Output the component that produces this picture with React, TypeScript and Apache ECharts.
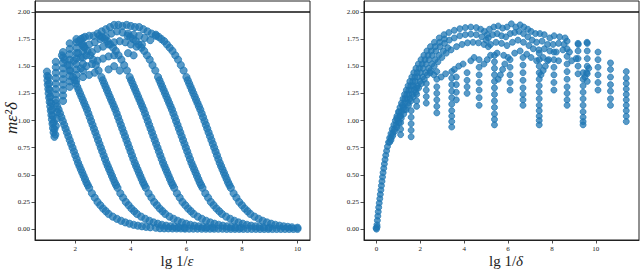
import React, { useEffect, useRef } from "react";
import * as echarts from "echarts";

type P = [number, number];

// ---------- Left panel: m*eps^2*delta vs lg 1/eps ----------
const epsCurve6: P[] = [[4.90,1.78],[5.00,1.77],[5.10,1.75],[5.20,1.73],[5.30,1.70],[5.40,1.67],[5.50,1.64],[5.60,1.60],[5.70,1.56],[5.80,1.51],[5.90,1.46],[6.00,1.40],[6.05,1.37],[6.10,1.34],[6.15,1.31],[6.20,1.28],[6.25,1.25],[6.30,1.22],[6.35,1.19],[6.40,1.16],[6.45,1.13],[6.50,1.10],[6.55,1.065],[6.60,1.03],[6.65,0.995],[6.70,0.96],[6.75,0.925],[6.80,0.89],[6.85,0.855],[6.90,0.82],[6.95,0.785],[7.00,0.75],[7.05,0.715],[7.10,0.68],[7.15,0.645],[7.20,0.61],[7.25,0.58],[7.30,0.55],[7.35,0.52],[7.40,0.49],[7.45,0.46],[7.50,0.43],[7.55,0.405],[7.60,0.38],[7.70,0.33],[7.80,0.29],[7.90,0.25],[8.00,0.22],[8.10,0.19],[8.20,0.165],[8.30,0.14],[8.45,0.115],[8.60,0.095],[8.75,0.077],[8.90,0.062],[9.05,0.05],[9.20,0.04],[9.35,0.032],[9.50,0.026],[9.65,0.021],[9.80,0.017],[10.00,0.013]];
const epsCurve5: P[] = [[3.88,1.78],[3.98,1.77],[4.08,1.75],[4.18,1.73],[4.28,1.70],[4.38,1.67],[4.48,1.64],[4.58,1.60],[4.68,1.56],[4.78,1.51],[4.88,1.46],[4.98,1.40],[5.03,1.37],[5.08,1.34],[5.13,1.31],[5.18,1.28],[5.23,1.25],[5.28,1.22],[5.33,1.19],[5.38,1.16],[5.43,1.13],[5.48,1.10],[5.53,1.065],[5.58,1.03],[5.63,0.995],[5.68,0.96],[5.73,0.925],[5.78,0.89],[5.83,0.855],[5.88,0.82],[5.93,0.785],[5.98,0.75],[6.03,0.715],[6.08,0.68],[6.13,0.645],[6.18,0.61],[6.23,0.58],[6.28,0.55],[6.33,0.52],[6.38,0.49],[6.43,0.46],[6.48,0.43],[6.53,0.405],[6.58,0.38],[6.68,0.33],[6.78,0.29],[6.88,0.25],[6.98,0.22],[7.08,0.19],[7.18,0.165],[7.28,0.14],[7.43,0.115],[7.58,0.095],[7.73,0.077],[7.88,0.062],[8.03,0.05],[8.18,0.04],[8.33,0.032],[8.48,0.026],[8.63,0.021],[8.78,0.017],[8.98,0.013]];
const epsCurve4: P[] = [[2.86,1.78],[2.96,1.77],[3.06,1.75],[3.16,1.73],[3.26,1.70],[3.36,1.67],[3.46,1.64],[3.56,1.60],[3.66,1.56],[3.76,1.51],[3.86,1.46],[3.96,1.40],[4.01,1.37],[4.06,1.34],[4.11,1.31],[4.16,1.28],[4.21,1.25],[4.26,1.22],[4.31,1.19],[4.36,1.16],[4.41,1.13],[4.46,1.10],[4.51,1.065],[4.56,1.03],[4.61,0.995],[4.66,0.96],[4.71,0.925],[4.76,0.89],[4.81,0.855],[4.86,0.82],[4.91,0.785],[4.96,0.75],[5.01,0.715],[5.06,0.68],[5.11,0.645],[5.16,0.61],[5.21,0.58],[5.26,0.55],[5.31,0.52],[5.36,0.49],[5.41,0.46],[5.46,0.43],[5.51,0.405],[5.56,0.38],[5.66,0.33],[5.76,0.29],[5.86,0.25],[5.96,0.22],[6.06,0.19],[6.16,0.165],[6.26,0.14],[6.41,0.115],[6.56,0.095],[6.71,0.077],[6.86,0.062],[7.01,0.05],[7.16,0.04],[7.31,0.032],[7.46,0.026],[7.61,0.021],[7.76,0.017],[7.96,0.013]];
const epsCurve3: P[] = [[2.04,1.75],[2.14,1.73],[2.24,1.70],[2.34,1.67],[2.44,1.64],[2.54,1.60],[2.64,1.56],[2.74,1.51],[2.84,1.46],[2.94,1.40],[2.99,1.37],[3.04,1.34],[3.09,1.31],[3.14,1.28],[3.19,1.25],[3.24,1.22],[3.29,1.19],[3.34,1.16],[3.39,1.13],[3.44,1.10],[3.49,1.065],[3.54,1.03],[3.59,0.995],[3.64,0.96],[3.69,0.925],[3.74,0.89],[3.79,0.855],[3.84,0.82],[3.89,0.785],[3.94,0.75],[3.99,0.715],[4.04,0.68],[4.09,0.645],[4.14,0.61],[4.19,0.58],[4.24,0.55],[4.29,0.52],[4.34,0.49],[4.39,0.46],[4.44,0.43],[4.49,0.405],[4.54,0.38],[4.64,0.33],[4.74,0.29],[4.84,0.25],[4.94,0.22],[5.04,0.19],[5.14,0.165],[5.24,0.14],[5.39,0.115],[5.54,0.095],[5.69,0.077],[5.84,0.062],[5.99,0.05],[6.14,0.04],[6.29,0.032],[6.44,0.026],[6.59,0.021],[6.74,0.017],[6.94,0.013]];
const epsCurve2: P[] = [[1.52,1.60],[1.62,1.56],[1.72,1.51],[1.82,1.46],[1.92,1.40],[1.97,1.37],[2.02,1.34],[2.07,1.31],[2.12,1.28],[2.17,1.25],[2.22,1.22],[2.27,1.19],[2.32,1.16],[2.37,1.13],[2.42,1.10],[2.47,1.065],[2.52,1.03],[2.57,0.995],[2.62,0.96],[2.67,0.925],[2.72,0.89],[2.77,0.855],[2.82,0.82],[2.87,0.785],[2.92,0.75],[2.97,0.715],[3.02,0.68],[3.07,0.645],[3.12,0.61],[3.17,0.58],[3.22,0.55],[3.27,0.52],[3.32,0.49],[3.37,0.46],[3.42,0.43],[3.47,0.405],[3.52,0.38],[3.62,0.33],[3.72,0.29],[3.82,0.25],[3.92,0.22],[4.02,0.19],[4.12,0.165],[4.22,0.14],[4.37,0.115],[4.52,0.095],[4.67,0.077],[4.82,0.062],[4.97,0.05],[5.12,0.04],[5.27,0.032],[5.42,0.026],[5.57,0.021],[5.72,0.017],[5.92,0.013]];
const epsCurve1: P[] = [[1.30,1.16],[1.35,1.13],[1.40,1.10],[1.45,1.065],[1.50,1.03],[1.55,0.995],[1.60,0.96],[1.65,0.925],[1.70,0.89],[1.75,0.855],[1.80,0.82],[1.85,0.785],[1.90,0.75],[1.95,0.715],[2.00,0.68],[2.05,0.645],[2.10,0.61],[2.15,0.58],[2.20,0.55],[2.25,0.52],[2.30,0.49],[2.35,0.46],[2.40,0.43],[2.45,0.405],[2.50,0.38],[2.60,0.33],[2.70,0.29],[2.80,0.25],[2.90,0.22],[3.00,0.19],[3.10,0.165],[3.20,0.14],[3.35,0.115],[3.50,0.095],[3.65,0.077],[3.80,0.062],[3.95,0.05],[4.10,0.04],[4.25,0.032],[4.40,0.026],[4.55,0.021],[4.70,0.017],[4.90,0.013]];
const epsFloor: P[] = [[5.05,0.008],[5.20,0.007],[5.35,0.007],[5.50,0.006],[5.65,0.006],[5.80,0.006],[5.95,0.005],[6.10,0.005],[6.25,0.005],[6.40,0.005],[6.55,0.004],[6.70,0.004],[6.85,0.004],[7.00,0.004],[7.15,0.004],[7.30,0.004],[7.45,0.003],[7.60,0.003],[7.75,0.003],[7.90,0.003],[8.05,0.003],[8.20,0.003],[8.35,0.003],[8.50,0.003],[8.65,0.002],[8.80,0.002],[8.95,0.002],[9.10,0.002],[9.25,0.002],[9.40,0.002],[9.55,0.002],[9.70,0.002],[9.85,0.002],[10.00,0.002]];
const epsStrip: P[] = [[0.98,1.45],[0.99,1.41],[1.00,1.37],[1.01,1.33],[1.03,1.29],[1.04,1.25],[1.06,1.21],[1.08,1.17],[1.10,1.13],[1.12,1.09],[1.14,1.05],[1.16,1.01],[1.18,0.97],[1.20,0.93],[1.22,0.89],[1.25,0.85],[1.04,1.40],[1.06,1.34],[1.08,1.28],[1.10,1.22],[1.13,1.16],[1.16,1.10],[1.19,1.04],[1.22,0.98],[1.25,0.92],[1.28,0.87],[1.30,0.95],[1.33,1.02],[1.35,1.08]];
const epsColX: number[] = [1.30, 1.56, 1.80, 2.04, 2.28];
const epsColY: number[][] = [
  [1.54, 1.49, 1.44, 1.39, 1.34, 1.29, 1.24, 1.19],
  [1.63, 1.58, 1.53, 1.48, 1.43, 1.38, 1.33, 1.28, 1.23, 1.18],
  [1.71, 1.66, 1.61, 1.56, 1.51, 1.46, 1.41, 1.36, 1.31],
  [1.72, 1.67, 1.62, 1.57, 1.52, 1.47, 1.42, 1.37],
  [1.76, 1.70, 1.64, 1.58, 1.52, 1.46, 1.40],
];
const epsArcs: P[] = [
  [2.20,1.75],[2.35,1.77],[2.50,1.78],[2.65,1.78],[2.80,1.80],[2.95,1.82],[3.10,1.84],[3.25,1.86],[3.40,1.88],[3.55,1.88],[3.70,1.87],[3.85,1.88],[4.00,1.87],[4.15,1.86],[4.30,1.86],[4.45,1.84],[4.60,1.82],[4.75,1.80],[4.90,1.79],
  [2.30,1.68],[2.50,1.70],[2.70,1.72],[2.90,1.75],[3.10,1.77],[3.30,1.80],[3.50,1.82],[3.70,1.81],[3.90,1.80],[4.10,1.79],[4.30,1.78],[4.50,1.76],[4.70,1.74],
  [2.20,1.58],[2.40,1.60],[2.60,1.63],[2.80,1.66],[3.00,1.68],[3.20,1.70],[3.40,1.72],[3.60,1.73],[3.80,1.72],[4.00,1.70],[4.20,1.68],
  [2.20,1.48],[2.40,1.50],[2.60,1.52],[2.80,1.55],[3.00,1.57],[3.20,1.59],[3.40,1.60],
  [2.50,1.42],[2.70,1.44],[3.20,1.47],[3.40,1.50],[3.60,1.46],[3.90,1.62],[4.10,1.60],[4.40,1.70],[2.10,1.62],[1.95,1.55],
];

// ---------- Right panel: m*eps^2*delta vs lg 1/delta ----------
const delRiseA: P[] = [[-0.02,0.01],[0.00,0.00],[0.03,0.02],[0.02,0.04],[0.04,0.08],[0.06,0.12],[0.08,0.16],[0.10,0.20],[0.125,0.24],[0.15,0.28],[0.175,0.32],[0.20,0.36],[0.225,0.40],[0.25,0.44],[0.275,0.48],[0.30,0.52],[0.33,0.56],[0.36,0.60],[0.39,0.64],[0.42,0.68],[0.46,0.72],[0.50,0.76],[0.55,0.80],[0.60,0.84],[0.66,0.88],[0.72,0.92],[0.79,0.96],[0.86,1.00],[0.93,1.04],[1.00,1.08],[1.07,1.12],[1.14,1.16],[1.21,1.20],[1.28,1.24],[1.36,1.28],[1.44,1.32],[1.52,1.36],[1.61,1.40],[1.70,1.44],[1.80,1.48],[1.91,1.52],[2.03,1.56],[2.16,1.60],[2.30,1.64],[2.46,1.68],[2.64,1.72],[2.86,1.76],[3.08,1.79],[3.30,1.81],[3.55,1.83],[3.80,1.845],[4.05,1.855],[4.30,1.86],[4.55,1.855],[4.75,1.84],[4.92,1.82],[5.05,1.79]];
const delRiseB: P[] = [[0.60,0.80],[0.67,0.84],[0.74,0.88],[0.82,0.92],[0.90,0.96],[0.98,1.00],[1.06,1.04],[1.14,1.08],[1.22,1.12],[1.30,1.16],[1.39,1.20],[1.48,1.24],[1.57,1.28],[1.67,1.32],[1.77,1.36],[1.88,1.40],[2.00,1.44],[2.12,1.48],[2.25,1.52],[2.39,1.56],[2.54,1.60],[2.71,1.64],[2.90,1.68],[3.10,1.71],[3.32,1.74],[3.55,1.76],[3.80,1.78],[4.05,1.79],[4.30,1.795],[4.55,1.79],[4.80,1.77],[5.00,1.74]];
const delRiseC: P[] = [[0.66,0.82],[0.74,0.86],[0.83,0.90],[0.93,0.94],[1.03,0.98],[1.13,1.02],[1.24,1.06],[1.35,1.10],[1.46,1.14],[1.57,1.18],[1.68,1.22],[1.80,1.26],[1.92,1.30],[2.05,1.34],[2.18,1.38],[2.32,1.42],[2.47,1.46],[2.63,1.50],[2.80,1.54],[2.98,1.58],[3.18,1.62],[3.40,1.65],[3.65,1.68],[3.90,1.70],[4.15,1.715],[4.40,1.72],[4.65,1.715],[4.90,1.70],[5.10,1.68]];
const delRiseAB: P[] = [[0.92,1.02],[1.04,1.08],[1.17,1.14],[1.30,1.20],[1.38,1.24],[1.47,1.28],[1.56,1.32],[1.65,1.36],[1.75,1.40],[1.85,1.44],[1.96,1.48],[2.08,1.52],[2.21,1.56],[2.35,1.60],[2.50,1.64],[2.68,1.68],[2.88,1.72],[3.10,1.75]];
const delRiseBC: P[] = [[1.10,1.04],[1.27,1.10],[1.44,1.16],[1.53,1.20],[1.64,1.24],[1.74,1.28],[1.86,1.32],[1.98,1.36],[2.10,1.40],[2.24,1.44],[2.38,1.48],[2.53,1.52],[2.68,1.56],[2.85,1.60],[3.05,1.64],[3.25,1.67]];
const delTop: P[] = [
  [5.15,1.84],[5.35,1.86],[5.55,1.87],[5.75,1.85],[5.95,1.86],[6.15,1.89],[6.35,1.86],[6.55,1.88],[6.72,1.86],[6.90,1.84],[7.05,1.82],[7.25,1.80],[7.45,1.80],[7.65,1.79],[7.90,1.76],[8.10,1.78],[8.35,1.77],[8.60,1.76],[9.20,1.70],[9.60,1.72],
  [5.10,1.76],[5.30,1.79],[5.50,1.80],[5.70,1.78],[5.90,1.77],[6.10,1.80],[6.30,1.81],[6.50,1.82],[6.70,1.80],[6.90,1.77],[7.10,1.74],[7.30,1.72],[7.55,1.73],[7.80,1.70],[8.05,1.70],[8.30,1.71],[8.55,1.70],
  [5.20,1.70],[5.45,1.72],[5.70,1.71],[5.95,1.69],[6.20,1.72],[6.45,1.74],[6.70,1.72],[6.95,1.69],[7.15,1.66],[7.40,1.65],[7.65,1.66],[7.90,1.64],[8.20,1.63],[8.50,1.65],[8.80,1.63],
  [5.50,1.62],[5.80,1.60],[6.00,1.58],[6.30,1.62],[6.55,1.64],[6.85,1.61],[7.05,1.58],[7.30,1.55],[7.60,1.58],[7.85,1.56],[8.30,1.55],[8.90,1.55],[9.10,1.57],
];
const delExtra: P[] = [[2.45,1.44],[2.62,1.42],[2.95,1.40],[3.15,1.43],[3.55,1.47],[3.75,1.50],[3.95,1.52],[4.30,1.55],[4.45,1.58],[4.90,1.52],[5.05,1.56],[5.20,1.60],[5.55,1.38],[5.65,1.42],[5.75,1.47],[5.85,1.52],[7.50,1.42],[7.60,1.46],[7.70,1.50],[7.80,1.55],[9.50,1.40],[9.58,1.44],[9.68,1.48]];
const delColX: number[] = [1.10, 1.58, 1.83, 2.27, 2.75, 3.43, 3.64, 4.13, 4.68, 5.38, 6.09, 6.68, 7.42, 8.09, 8.69, 9.19, 9.42, 9.61, 10.10, 10.67, 11.39];
const delColY: number[][] = [
  [0.98, 0.92, 0.87],
  [1.09, 1.03, 0.97, 0.91, 0.85],
  [1.30, 1.24, 1.18, 1.13],
  [1.34, 1.28, 1.22, 1.16],
  [1.45, 1.38, 1.31, 1.25, 1.19, 1.13, 1.07],
  [1.45, 1.39, 1.33, 1.27, 1.21, 1.15, 1.09, 1.04, 0.99, 0.94],
  [1.40, 1.33, 1.26, 1.19],
  [1.44, 1.37, 1.31, 1.25],
  [1.56, 1.49, 1.42, 1.35, 1.28, 1.21, 1.14],
  [1.60, 1.54, 1.48, 1.42, 1.36, 1.30, 1.24, 1.18, 1.12, 1.06, 1.01, 0.96],
  [1.56, 1.49, 1.42, 1.35, 1.28],
  [1.58, 1.51, 1.44, 1.37, 1.30, 1.24, 1.19, 1.14],
  [1.62, 1.56, 1.50, 1.44, 1.38, 1.32, 1.26, 1.20, 1.14, 1.09, 1.04, 1.00, 0.96],
  [1.63, 1.56, 1.49, 1.42, 1.35, 1.28],
  [1.73, 1.66, 1.59, 1.52, 1.45, 1.38, 1.31, 1.25, 1.19, 1.14],
  [1.71, 1.64, 1.57, 1.50, 1.43],
  [1.44, 1.38, 1.32, 1.26, 1.20, 1.14, 1.08, 1.03, 0.99, 0.96],
  [1.71, 1.64, 1.57, 1.50, 1.43, 1.36],
  [1.63, 1.56, 1.49, 1.42, 1.35, 1.28],
  [1.53, 1.47, 1.40, 1.33, 1.27, 1.20, 1.14],
  [1.45, 1.39, 1.34, 1.29, 1.24, 1.19, 1.14, 1.09, 1.04, 0.99],
];

const yTicks: number[] = [0, 0.25, 0.5, 0.75, 1.0, 1.25, 1.5, 1.75, 2.0];
const xTicksEps: number[] = [2, 4, 6, 8, 10];
const xTicksDel: number[] = [0, 2, 4, 6, 8, 10];
const boundValue = 2;

function columns(xs: number[], ys: number[][]): P[] {
  const out: P[] = [];
  xs.forEach((x, i) => ys[i].forEach((y) => out.push([x, y])));
  return out;
}

export default function App() {
  const ref = useRef<HTMLDivElement>(null);
  useEffect(() => {
    if (!ref.current) return;
    const chart = echarts.init(ref.current, null, { renderer: "svg" });
    const axisColor = "#222";
    const tickFont = { fontSize: 7, fontFamily: "Liberation Serif", color: "#222" };
    const mkX = (grid: number, min: number, max: number, ticks: number[]) => ({
      gridIndex: grid, type: "value", min, max,
      splitLine: { show: false },
      axisLine: { show: true, onZero: false, lineStyle: { color: axisColor, width: 1 } },
      axisTick: { show: true, inside: false, length: 3.5, customValues: ticks, lineStyle: { color: axisColor, width: 0.8 } },
      axisLabel: { ...tickFont, margin: 5, customValues: ticks, formatter: (v: number) => String(v) },
    });
    const mkY = (grid: number) => ({
      gridIndex: grid, type: "value", min: -0.1, max: 2.1,
      splitLine: { show: false },
      axisLine: { show: true, onZero: false, lineStyle: { color: axisColor, width: 1 } },
      axisTick: { show: true, inside: false, length: 3.5, customValues: yTicks, lineStyle: { color: axisColor, width: 0.8 } },
      axisLabel: { ...tickFont, margin: 5, customValues: yTicks, formatter: (v: number) => v.toFixed(2) },
    });
    const pointStyle = {
      color: "rgba(31,119,180,0.74)",
      borderColor: "rgba(31,119,180,0.9)",
      borderWidth: 0.8,
      opacity: 1,
    };
    const boundLine = {
      silent: true, symbol: "none", label: { show: false },
      lineStyle: { color: "#111", width: 1.6, type: "solid" },
      data: [{ yAxis: boundValue }],
    };
    const leftData: P[] = [
      ...epsFloor, ...epsCurve1, ...epsCurve2, ...epsCurve3, ...epsCurve4, ...epsCurve5, ...epsCurve6,
      ...epsStrip, ...columns(epsColX, epsColY), ...epsArcs,
    ];
    const rightData: P[] = [
      ...delRiseA, ...delRiseB, ...delRiseC, ...delRiseAB, ...delRiseBC, ...delTop, ...delExtra,
      ...columns(delColX, delColY),
    ];
    const titleFont = "Liberation Serif";
    const titleRich = {
      r: { fontSize: 15, fontFamily: titleFont, fill: "#222" },
      i: { fontSize: 15, fontFamily: titleFont, fontStyle: "italic", fill: "#222" },
    };
    chart.setOption({
      animation: false,
      backgroundColor: "#fff",
      grid: [
        { left: 35, top: 1, width: 275, height: 239, show: true, borderColor: axisColor, borderWidth: 1, backgroundColor: "transparent" },
        { left: 364, top: 1, width: 275, height: 239, show: true, borderColor: axisColor, borderWidth: 1, backgroundColor: "transparent" },
      ],
      xAxis: [mkX(0, 0.55, 10.45, xTicksEps), mkX(1, -0.57, 11.97, xTicksDel)],
      yAxis: [mkY(0), mkY(1)],
      series: [
        { type: "scatter", xAxisIndex: 0, yAxisIndex: 0, symbolSize: 7.2, silent: true, itemStyle: pointStyle, data: leftData, markLine: boundLine },
        { type: "scatter", xAxisIndex: 1, yAxisIndex: 1, symbolSize: 6, silent: true, itemStyle: pointStyle, data: rightData, markLine: boundLine },
      ],
      graphic: [
        {
          type: "text", x: 11, y: 118, rotation: Math.PI / 2,
          style: { text: "mε²δ", font: `italic 17px "${titleFont}"`, fill: "#222", align: "center", verticalAlign: "middle" },
        },
        {
          type: "text", x: 177, y: 261,
          style: { text: "{r|lg 1/}{i|ε}", align: "center", verticalAlign: "middle", fill: "#222", rich: titleRich },
        },
        {
          type: "text", x: 506, y: 261,
          style: { text: "{r|lg 1/}{i|δ}", align: "center", verticalAlign: "middle", fill: "#222", rich: titleRich },
        },
      ],
    });
    return () => chart.dispose();
  }, []);
  return (
    <div
      ref={ref}
      style={{ position: "fixed", left: 0, top: 0, width: 640, height: 270, background: "#fff" }}
    />
  );
}
